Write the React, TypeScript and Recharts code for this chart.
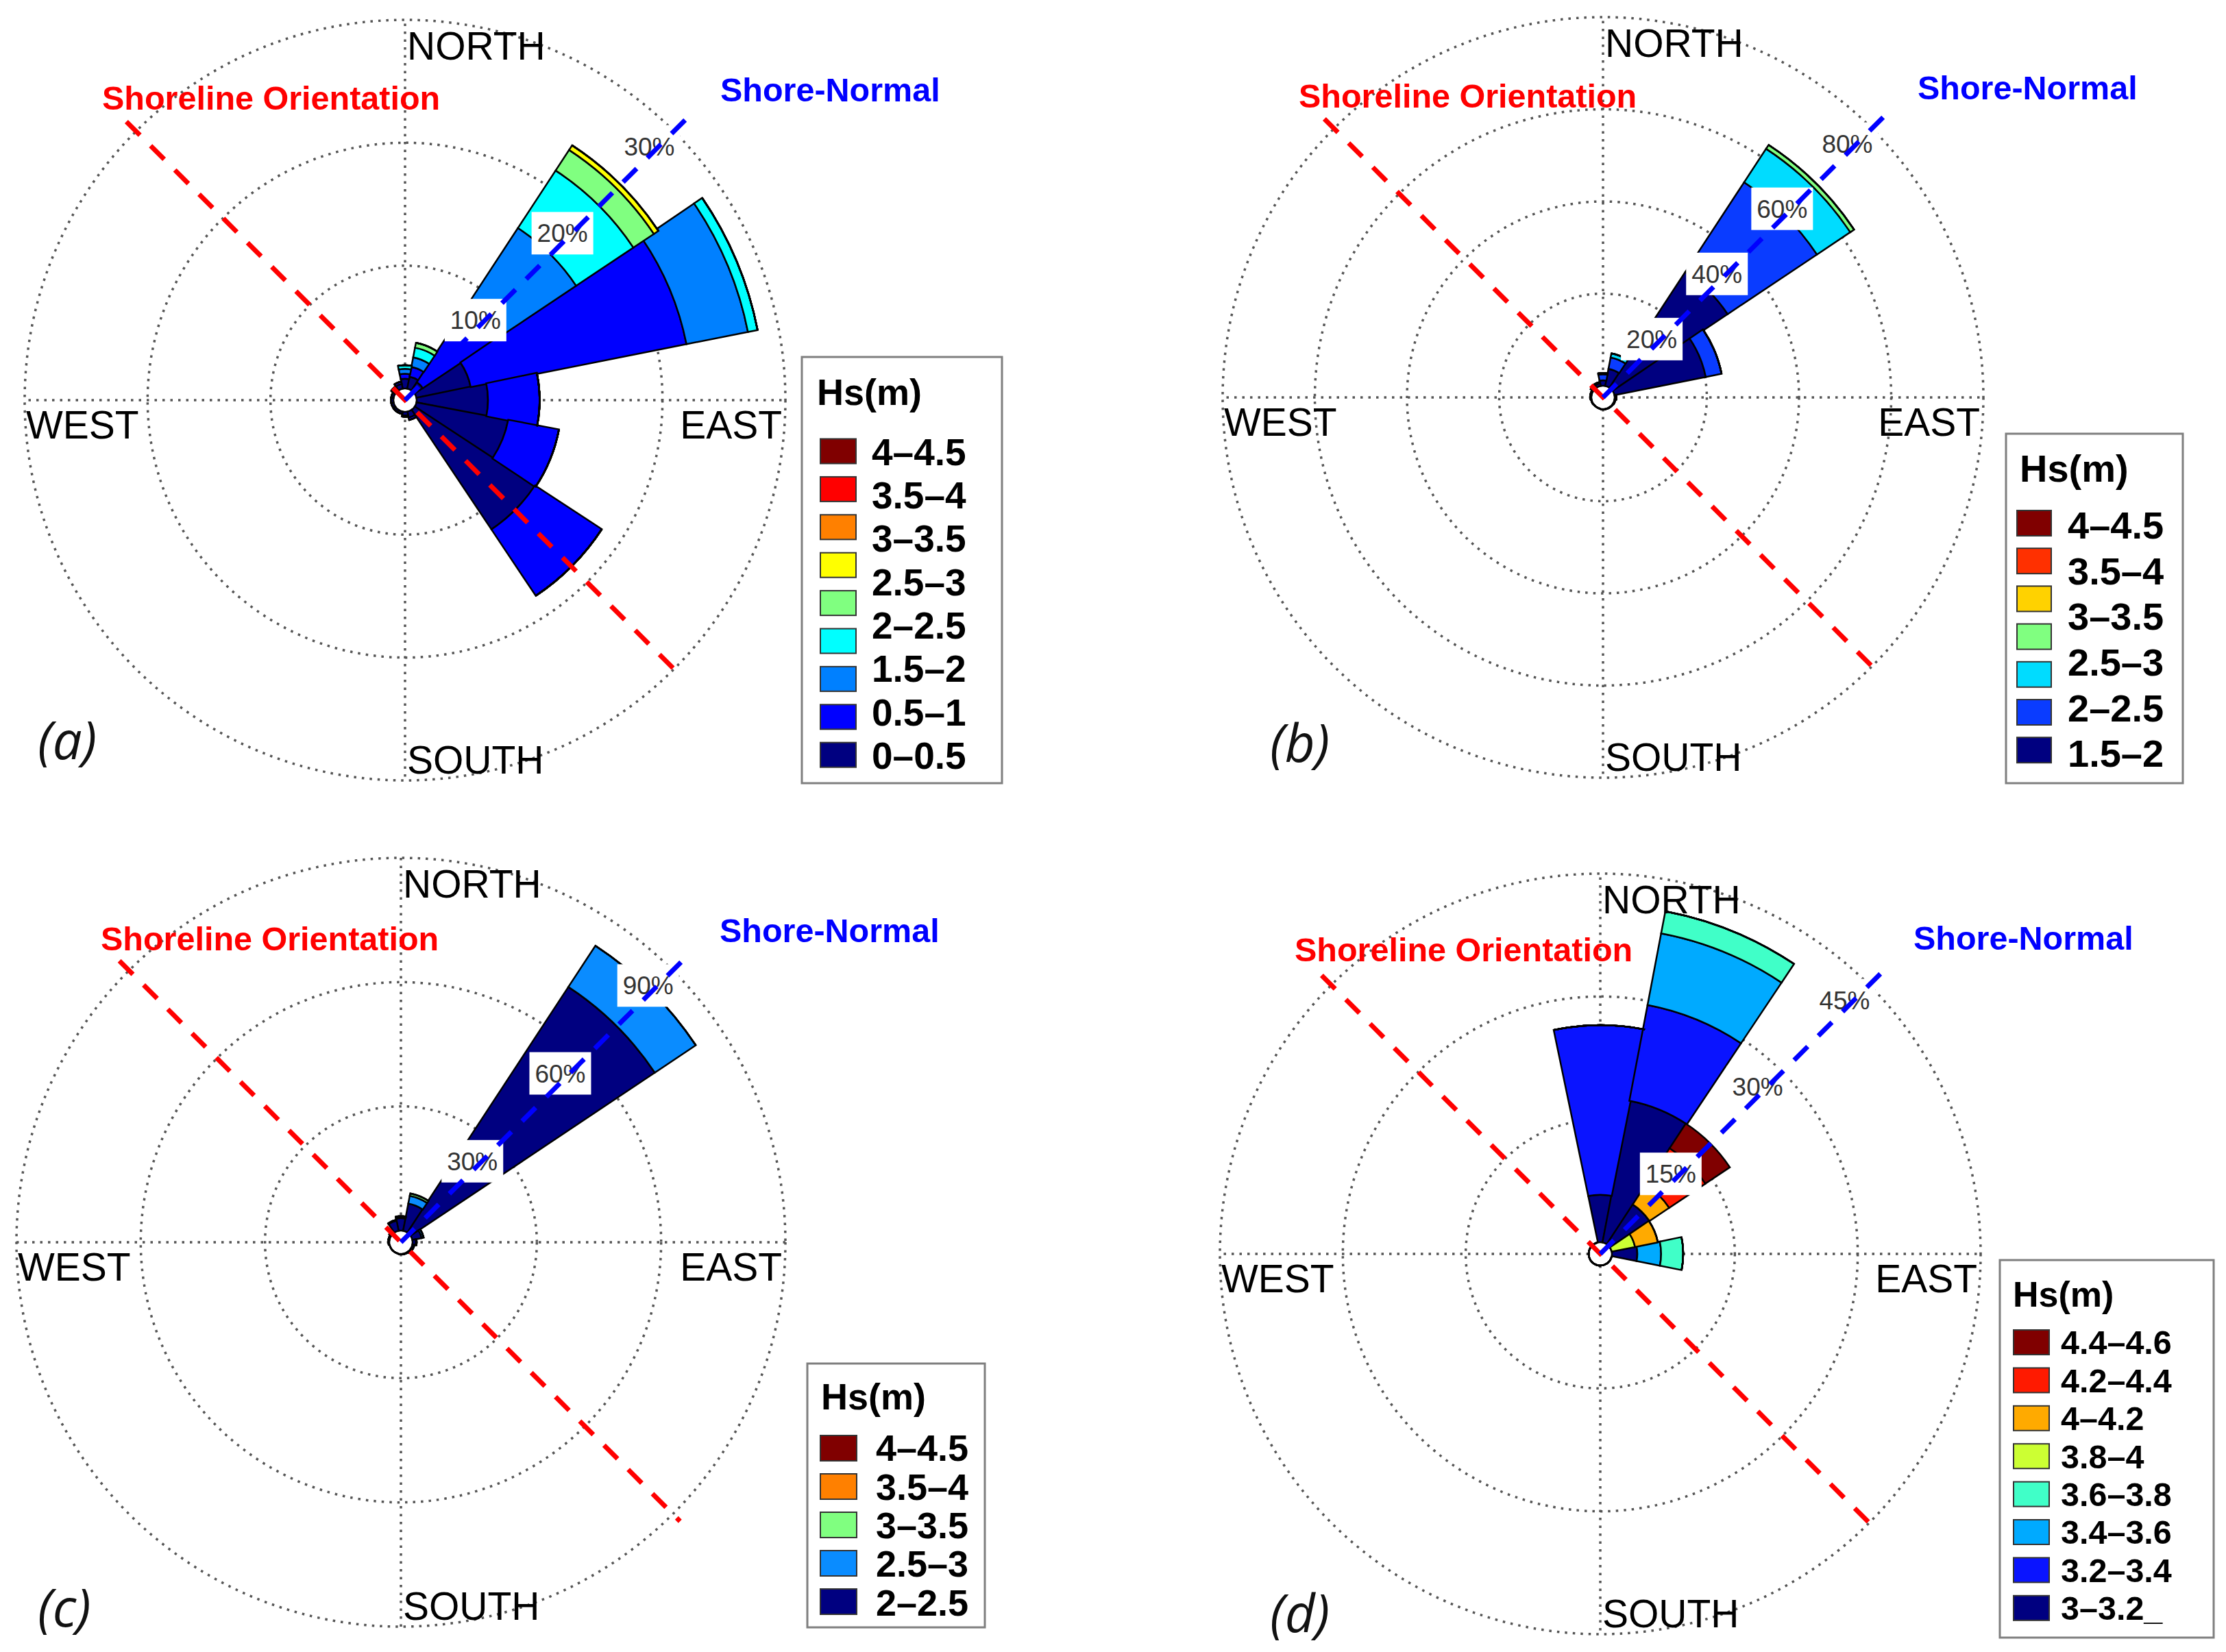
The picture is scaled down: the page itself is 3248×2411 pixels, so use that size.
import React from 'react';
import { RadialBarChart, RadialBar, PolarAngleAxis, PolarRadiusAxis, PolarGrid } from 'recharts';

// ---------- shared ----------
const DIRECTIONS = ['N', 'NNE', 'NE', 'ENE', 'E', 'ESE', 'SE', 'SSE', 'S', 'SSW', 'SW', 'WSW', 'W', 'WNW', 'NW', 'NNW'];

// ---------- panel (a): % frequency per Hs class, per direction ----------
const A_HS_0_05 = [0.8, 1.0, 0.8, 4.5, 5.8, 7.6, 11.7, 0.5, 0.3, 0.2, 0.2, 0.2, 0.2, 0.2, 0.3, 0.4];
const A_HS_05_1 = [0.4, 0.8, 7.2, 17.9, 4.2, 4.2, 6.5, 0.2, 0.1, 0, 0, 0, 0, 0, 0.1, 0.2];
const A_HS_1_15 = [0.4, 0.8, 7.8, 5.1, 0, 0, 0, 0, 0, 0, 0, 0, 0, 0, 0, 0];
const A_HS_15_2 = [0.3, 0.8, 5.6, 0.8, 0, 0, 0, 0, 0, 0, 0, 0, 0, 0, 0, 0];
const A_HS_2_25 = [0, 0.4, 2.0, 0, 0, 0, 0, 0, 0, 0, 0, 0, 0, 0, 0, 0];
const A_HS_25_3 = [0, 0, 0.45, 0, 0, 0, 0, 0, 0, 0, 0, 0, 0, 0, 0, 0];
const A_HS_3_35 = [0, 0, 0, 0, 0, 0, 0, 0, 0, 0, 0, 0, 0, 0, 0, 0];
const A_HS_35_4 = [0, 0, 0, 0, 0, 0, 0, 0, 0, 0, 0, 0, 0, 0, 0, 0];
const A_HS_4_45 = [0, 0, 0, 0, 0, 0, 0, 0, 0, 0, 0, 0, 0, 0, 0, 0];
const A_COLORS = ['#000080', '#0000FF', '#0080FF', '#00FFFF', '#80FF80', '#FFFF00', '#FF8000', '#FF0000', '#800000'];
const A_LEGEND = ['4–4.5', '3.5–4', '3–3.5', '2.5–3', '2–2.5', '1.5–2', '0.5–1', '0–0.5'];
const A_TICKS = [10, 20, 30];

// ---------- panel (b) ----------
const B_HS_1 = [1.2, 3.8, 30.0, 20.2, 0.4, 0.2, 0.1, 0.1, 0.1, 0, 0, 0.1, 0.2, 0.3, 0.5, 0.6];
const B_HS_2 = [1.3, 2.5, 23.3, 3.5, 0, 0, 0, 0, 0, 0, 0, 0, 0, 0, 0.2, 0.3];
const B_HS_3 = [0.3, 0.9, 8.7, 0, 0, 0, 0, 0, 0, 0, 0, 0, 0, 0, 0, 0];
const B_HS_4 = [0, 0, 1.0, 0, 0, 0, 0, 0, 0, 0, 0, 0, 0, 0, 0, 0];
const B_HS_5 = [0, 0, 0, 0, 0, 0, 0, 0, 0, 0, 0, 0, 0, 0, 0, 0];
const B_HS_6 = [0, 0, 0, 0, 0, 0, 0, 0, 0, 0, 0, 0, 0, 0, 0, 0];
const B_HS_7 = [0, 0, 0, 0, 0, 0, 0, 0, 0, 0, 0, 0, 0, 0, 0, 0];
const B_COLORS = ['#000080', '#0A3CFF', '#00DCFF', '#80FF80', '#FFD200', '#FF3000', '#800000'];
const B_LEGEND = ['4–4.5', '3.5–4', '3–3.5', '2.5–3', '2–2.5', '1.5–2'];
const B_TICKS = [20, 40, 60, 80];

// ---------- panel (c) ----------
const C_HS_2_25 = [3.0, 6.7, 70.9, 2.3, 0.8, 0.5, 0.3, 0.2, 0.1, 0, 0, 0, 0.2, 0.3, 0.6, 2.5];
const C_HS_25_3 = [0.3, 1.9, 11.9, 0.5, 0.2, 0, 0, 0, 0, 0, 0, 0, 0, 0, 0, 0.2];
const C_HS_3_35 = [0.2, 0.6, 0, 0, 0, 0, 0, 0, 0, 0, 0, 0, 0, 0, 0, 0];
const C_HS_35_4 = [0, 0, 0, 0, 0, 0, 0, 0, 0, 0, 0, 0, 0, 0, 0, 0];
const C_HS_4_45 = [0, 0, 0, 0, 0, 0, 0, 0, 0, 0, 0, 0, 0, 0, 0, 0];
const C_COLORS = ['#000080', '#0A8CFF', '#80FF80', '#FF8000', '#800000'];
const C_LEGEND = ['4–4.5', '3.5–4', '3–3.5', '2.5–3', '2–2.5'];
const C_TICKS = [30, 60, 90];

// ---------- panel (d) ----------
const D_HS_30_32 = [5.8, 17.6, 5.8, 0, 3.1, 0, 0, 0, 0, 0, 0, 0, 0, 0, 0, 0];
const D_HS_32_34 = [20.7, 11.9, 0, 0, 0, 0, 0, 0, 0, 0, 0, 0, 0, 0, 0, 0];
const D_HS_34_36 = [0, 8.9, 0, 0, 2.9, 0, 0, 0, 0, 0, 0, 0, 0, 0, 0, 0];
const D_HS_36_38 = [0, 2.75, 0, 0, 2.7, 0, 0, 0, 0, 0, 0, 0, 0, 0, 0, 0];
const D_HS_38_40 = [0, 0, 0, 2.9, 0, 0, 0, 0, 0, 0, 0, 0, 0, 0, 0, 0];
const D_HS_40_42 = [0, 0, 2.9, 2.85, 0, 0, 0, 0, 0, 0, 0, 0, 0, 0, 0, 0];
const D_HS_42_44 = [0, 0, 5.3, 0, 0, 0, 0, 0, 0, 0, 0, 0, 0, 0, 0, 0];
const D_HS_44_46 = [0, 0, 3.6, 0, 0, 0, 0, 0, 0, 0, 0, 0, 0, 0, 0, 0];
const D_COLORS = ['#000080', '#0A14FF', '#00AAFF', '#40FFC8', '#CCFF33', '#FFAA00', '#FF1A00', '#800000'];
const D_LEGEND = ['4.4–4.6', '4.2–4.4', '4–4.2', '3.8–4', '3.6–3.8', '3.4–3.6', '3.2–3.4', '3–3.2_'];
const D_TICKS = [15, 30, 45];

const COMPASS = ['NORTH', 'EAST', 'SOUTH', 'WEST'];
const SHORE_TEXT = 'Shoreline Orientation';
const NORMAL_TEXT = 'Shore-Normal';
const LEGEND_TITLE = 'Hs(m)';

const FONT = "'Liberation Sans', Arial, Helvetica, sans-serif";
const INNER = 17;
// compass orientation: north up, clockwise (band of the first category centred on north)
const START_ANGLE = 78.75;
const END_ANGLE = -281.25;

// ---------- layout (positions / styles only) ----------
const PANELS = [
  {
    id: 'a', series: [A_HS_0_05, A_HS_05_1, A_HS_1_15, A_HS_15_2, A_HS_2_25, A_HS_25_3, A_HS_3_35, A_HS_35_4, A_HS_4_45],
    colors: A_COLORS, legend: A_LEGEND, ticks: A_TICKS, max: 30,
    left: 0, top: 0, cx: 591, cy: 584, R: 555,
    so: { x: 149, y: 160 }, sn: { x: 1051, y: 148 }, tag: { x: 55, y: 1108 },
    lg: { x: 1170, y: 521, w: 292, h: 622, tx: 1192, ty: 591, tfs: 54, sx: 1197, sw: 52, sh: 36, sy: 640.5, sdy: 55.4, lx: 1272, ly: 659, ldy: 63.3, lfs: 55 },
  },
  {
    id: 'b', series: [B_HS_1, B_HS_2, B_HS_3, B_HS_4, B_HS_5, B_HS_6, B_HS_7],
    colors: B_COLORS, legend: B_LEGEND, ticks: B_TICKS, max: 80,
    left: 1624, top: 0, cx: 2339, cy: 580, R: 555,
    so: { x: 1895, y: 157 }, sn: { x: 2798, y: 145 }, tag: { x: 1853, y: 1112 },
    lg: { x: 2927, y: 633, w: 258, h: 510, tx: 2947, ty: 703, tfs: 56, sx: 2943, sw: 50, sh: 37, sy: 745, sdy: 55.2, lx: 3017, ly: 766, ldy: 66.6, lfs: 56 },
  },
  {
    id: 'c', series: [C_HS_2_25, C_HS_25_3, C_HS_3_35, C_HS_35_4, C_HS_4_45],
    colors: C_COLORS, legend: C_LEGEND, ticks: C_TICKS, max: 90,
    left: 0, top: 1205, cx: 585, cy: 1813, R: 561,
    so: { x: 147, y: 1387 }, sn: { x: 1050, y: 1375 }, tag: { x: 55, y: 2374 },
    lg: { x: 1178, y: 1990, w: 259, h: 385, tx: 1198, ty: 2057, tfs: 54, sx: 1197, sw: 53, sh: 37, sy: 2095, sdy: 56, lx: 1278, ly: 2113, ldy: 56.3, lfs: 54 },
  },
  {
    id: 'd', series: [D_HS_30_32, D_HS_32_34, D_HS_34_36, D_HS_36_38, D_HS_38_40, D_HS_40_42, D_HS_42_44, D_HS_44_46],
    colors: D_COLORS, legend: D_LEGEND, ticks: D_TICKS, max: 45,
    left: 1624, top: 1205, cx: 2335, cy: 1830, R: 555,
    so: { x: 1889, y: 1403 }, sn: { x: 2792, y: 1386 }, tag: { x: 1853, y: 2382 },
    lg: { x: 2918, y: 1839, w: 312, h: 551, tx: 2937, ty: 1907, tfs: 52, sx: 2938, sw: 52, sh: 36, sy: 1941, sdy: 55.4, lx: 3007, ly: 1959, ldy: 55.4, lfs: 48.5 },
  },
];

const CHART_W = 1624;
const CHART_H = 1206;

const RingTick = (props: any) => {
  const { x, y, payload } = props;
  const tx = x - 36;
  const ty = y + 22;
  return (
    <g>
      <rect x={tx - 45} y={ty - 31} width={90} height={62} fill="#ffffff" />
      <text x={tx} y={ty + 13} textAnchor="middle" fontFamily={FONT} fontSize={37} fill="#333333">
        {`${payload.value}%`}
      </text>
    </g>
  );
};

function Rose({ p }: { p: any }) {
  const data = DIRECTIONS.map((d, i) => {
    const row: any = { dir: d };
    p.series.forEach((s: number[], k: number) => {
      row['c' + k] = s[i];
    });
    return row;
  });
  return (
    <div style={{ position: 'absolute', left: p.left, top: p.top, width: CHART_W, height: CHART_H }}>
      <RadialBarChart
        width={CHART_W}
        height={CHART_H}
        data={data}
        layout="centric"
        cx={p.cx - p.left}
        cy={p.cy - p.top}
        innerRadius={INNER}
        outerRadius={p.R}
        startAngle={START_ANGLE}
        endAngle={END_ANGLE}
        barCategoryGap={0}
        barGap={0}
        margin={{ top: 0, right: 0, bottom: 0, left: 0 }}
      >
        <PolarGrid gridType="circle" polarAngles={[0, 90, 180, 270]} stroke="#555555" strokeWidth={3.5} strokeDasharray="3.5 8" />
        <PolarAngleAxis type="category" dataKey="dir" tick={false} axisLine={false} tickLine={false} />
        <PolarRadiusAxis type="number" domain={[0, p.max]} ticks={p.ticks} angle={45} axisLine={false} tick={RingTick} allowDataOverflow />
        {p.colors.map((c: string, k: number) => (
          <RadialBar key={k} dataKey={'c' + k} stackId="hs" fill={c} stroke="#000000" strokeWidth={2.5} isAnimationActive={false} />
        ))}
      </RadialBarChart>
    </div>
  );
}

function PanelDecor({ p }: { p: any }) {
  const k = Math.SQRT1_2;
  const { cx, cy, R, lg } = p;
  const legendColors = [...p.colors].reverse();
  return (
    <g>
      {/* shoreline orientation */}
      <line x1={cx - (R + 20) * k} y1={cy - (R + 20) * k} x2={cx + (R + 15) * k} y2={cy + (R + 15) * k}
        stroke="#FF0000" strokeWidth={7} strokeDasharray="28 22" />
      {/* shore-normal */}
      <line x1={cx} y1={cy} x2={cx + (R + 30) * k} y2={cy - (R + 30) * k}
        stroke="#0000FF" strokeWidth={7} strokeDasharray="28 22" />
      <text x={p.so.x} y={p.so.y} fontFamily={FONT} fontWeight="bold" fontSize={48.5} fill="#FF0000">{SHORE_TEXT}</text>
      <text x={p.sn.x} y={p.sn.y} fontFamily={FONT} fontWeight="bold" fontSize={48.5} fill="#0000FF">{NORMAL_TEXT}</text>
      <text x={cx + 3} y={cy - R + 58} fontFamily={FONT} fontSize={57} fill="#000">{COMPASS[0]}</text>
      <text x={cx + R - 5} y={cy + 56} textAnchor="end" fontFamily={FONT} fontSize={57} fill="#000">{COMPASS[1]}</text>
      <text x={cx + 3} y={cy + R - 10} fontFamily={FONT} fontSize={57} fill="#000">{COMPASS[2]}</text>
      <text x={cx - R + 2} y={cy + 56} fontFamily={FONT} fontSize={57} fill="#000">{COMPASS[3]}</text>
      <text x={p.tag.x} y={p.tag.y} fontFamily="'Open Sans', 'DejaVu Sans', sans-serif" fontStyle="italic" fontWeight={400} fontSize={76} fill="#111">{`(${p.id})`}</text>
      {/* legend */}
      <rect x={lg.x} y={lg.y} width={lg.w} height={lg.h} fill="#ffffff" stroke="#7f7f7f" strokeWidth={3} />
      <text x={lg.tx} y={lg.ty} fontFamily={FONT} fontWeight="bold" fontSize={lg.tfs} fill="#000">{LEGEND_TITLE}</text>
      {legendColors.map((c: string, i: number) => (
        <rect key={'s' + i} x={lg.sx} y={lg.sy + i * lg.sdy} width={lg.sw} height={lg.sh} fill={c} stroke="#333" strokeWidth={2} />
      ))}
      {p.legend.map((t: string, i: number) => (
        <text key={'l' + i} x={lg.lx} y={lg.ly + i * lg.ldy + lg.lfs * 0.36} fontFamily={FONT} fontWeight="bold" fontSize={lg.lfs} fill="#000">{t}</text>
      ))}
    </g>
  );
}

export default function App() {
  return (
    <div style={{ position: 'absolute', left: 0, top: 0, width: 3248, height: 2411, background: '#ffffff', overflow: 'hidden' }}>
      {PANELS.map((p) => (
        <Rose key={p.id} p={p} />
      ))}
      <svg width={3248} height={2411} style={{ position: 'absolute', left: 0, top: 0, pointerEvents: 'none' }}>
        {PANELS.map((p) => (
          <PanelDecor key={p.id} p={p} />
        ))}
      </svg>
    </div>
  );
}
